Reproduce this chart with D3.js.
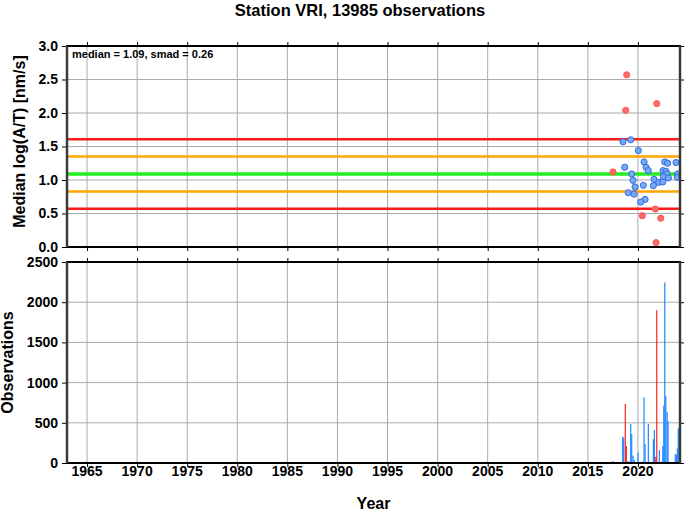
<!DOCTYPE html>
<html>
<head>
<meta charset="utf-8">
<script src="https://cdn.jsdelivr.net/npm/d3@7"></script>
<style>
  body { margin: 0; background: #fff; }
  svg { display: block; font-family: "Liberation Sans", Arial, Helvetica, sans-serif; }
</style>
</head>
<body>
<div id="chart"></div>
<script>
// Data
const stationName = "VRI";
const totalObservations = 13985;
const median = 1.09;
const smad = 0.26;

// Median log(A/T) per group, flagged = drawn red
const pointYears = [2018.88, 2018.78, 2021.88, 2017.51, 2021.74, 2020.44, 2022.28, 2021.81,
    2018.51, 2019.28, 2020.04, 2020.61, 2022.68, 2022.97, 2023.80, 2018.68, 2020.81, 2021.04,
    2022.51, 2022.81, 2019.38, 2022.88, 2023.97, 2022.54, 2023.04, 2023.93, 2019.51, 2021.61,
    2022.08, 2022.48, 2019.71, 2020.54, 2021.54, 2019.04, 2019.61, 2020.71, 2020.28];
const pointMedians = [2.57, 2.04, 2.14, 1.12, 0.567, 0.467, 0.43, 0.065,
    1.57, 1.60, 1.44, 1.27, 1.27, 1.25, 1.26, 1.19, 1.19, 1.14,
    1.14, 1.13, 1.09, 1.09, 1.09, 1.05, 1.03, 1.04, 0.995, 1.01,
    0.965, 0.97, 0.895, 0.92, 0.915, 0.81, 0.79, 0.71, 0.67];
const pointFlagged = [1, 1, 1, 1, 1, 1, 1, 1,
    0, 0, 0, 0, 0, 0, 0, 0, 0, 0,
    0, 0, 0, 0, 0, 0, 0, 0, 0, 0,
    0, 0, 0, 0, 0, 0, 0, 0, 0];

// Observation counts
const barYears = [2017.48, 2018.48, 2018.58, 2018.74, 2018.84, 2019.01, 2019.28, 2019.38,
    2019.51, 2019.64, 2020.01, 2020.34, 2020.48, 2020.61, 2020.71, 2021.04, 2021.54, 2021.64,
    2021.78, 2021.88, 2022.14, 2022.31, 2022.48, 2022.58, 2022.68, 2022.78, 2022.91, 2023.01,
    2023.73, 2023.83, 2023.93, 2024.03];
const barCounts = [25, 327, 315, 734, 211, 25, 485, 361,
    91, 37, 128, 12, 20, 817, 236, 485, 295, 410,
    78, 1899, 162, 10, 211, 713, 2246, 833, 638, 522,
    112, 100, 182, 431];
const barFlagged = [1, 0, 0, 1, 1, 0, 0, 0,
    0, 0, 0, 1, 0, 0, 0, 0, 0, 0,
    1, 1, 0, 1, 0, 0, 0, 0, 0, 0,
    0, 0, 0, 0];

const yearTicks = d3.range(1965, 2021, 5);
const medianTicks = [0, 0.5, 1, 1.5, 2, 2.5, 3];
const countTicks = [0, 500, 1000, 1500, 2000, 2500];

// Layout
const W = 685, H = 511;
const left = 67, right = 680;
const top1 = 46, bottom1 = 247;
const top2 = 262, bottom2 = 463;

const svg = d3.select("#chart").append("svg")
    .attr("width", W)
    .attr("height", H);

const x = d3.scaleLinear().domain([1963, 2024.2]).range([left, right]);
const y1 = d3.scaleLinear().domain([0, 3]).range([bottom1, top1]);
const y2 = d3.scaleLinear().domain([0, 2500]).range([bottom2, top2]);

const gridColor = "#ababab";

function panel(yScale, yTop, yBottom, ticks, fmt) {
    const g = svg.append("g");

    // grid
    g.selectAll(".vgrid").data(yearTicks).enter().append("line")
        .attr("x1", d => x(d)).attr("x2", d => x(d))
        .attr("y1", yTop).attr("y2", yBottom)
        .attr("stroke", gridColor).attr("stroke-width", 1);
    g.selectAll(".hgrid").data(ticks).enter().append("line")
        .attr("x1", left).attr("x2", right)
        .attr("y1", d => yScale(d)).attr("y2", d => yScale(d))
        .attr("stroke", gridColor).attr("stroke-width", 1);

    // ticks on all four sides
    const yl = g.append("g").attr("transform", `translate(${left},0)`)
        .call(d3.axisLeft(yScale).tickValues(ticks).tickSize(5).tickPadding(4).tickFormat(fmt));
    yl.selectAll("text").attr("font-size", 14).attr("font-weight", "bold").attr("fill", "#000")
        .style("font-family", "Liberation Sans, Arial, sans-serif");
    g.append("g").attr("transform", `translate(${right},0)`)
        .call(d3.axisRight(yScale).tickValues(ticks).tickSize(4).tickFormat(""));
    g.append("g").attr("transform", `translate(0,${yTop})`)
        .call(d3.axisTop(x).tickValues(yearTicks).tickSize(4).tickFormat(""));
    g.append("g").attr("transform", `translate(0,${yBottom})`)
        .call(d3.axisBottom(x).tickValues(yearTicks).tickSize(4).tickFormat(""));
    g.selectAll(".domain").remove();
    g.selectAll(".tick line").attr("stroke", "#000");
    return g;
}

function frame(yTop, yBottom) {
    svg.append("line").attr("x1", left - 1).attr("x2", right + 1).attr("y1", yTop).attr("y2", yTop)
        .attr("stroke", "#000").attr("stroke-width", 2);
    svg.append("line").attr("x1", left - 1).attr("x2", right + 1).attr("y1", yBottom).attr("y2", yBottom)
        .attr("stroke", "#000").attr("stroke-width", 2);
    svg.append("line").attr("x1", left).attr("x2", left).attr("y1", yTop).attr("y2", yBottom)
        .attr("stroke", "#3a3a3a").attr("stroke-width", 2.5);
    svg.append("line").attr("x1", right).attr("x2", right).attr("y1", yTop).attr("y2", yBottom)
        .attr("stroke", "#3a3a3a").attr("stroke-width", 2.5);
}

// ---- top panel
panel(y1, top1, bottom1, medianTicks, d3.format(".1f"));

const levels = [
    { v: median + 2 * smad, c: "#ff1a1a", w: 2.5 },
    { v: median - 2 * smad, c: "#ff1a1a", w: 2.5 },
    { v: median + smad, c: "#ffa500", w: 2.5 },
    { v: median - smad, c: "#ffa500", w: 2.5 },
    { v: median, c: "#22ee22", w: 3.5 }
];
svg.append("g").selectAll("line").data(levels).enter().append("line")
    .attr("x1", left).attr("x2", right)
    .attr("y1", d => y1(d.v)).attr("y2", d => y1(d.v))
    .attr("stroke", d => d.c).attr("stroke-width", d => d.w);

svg.append("g").selectAll("circle").data(d3.range(pointYears.length)).enter().append("circle")
    .attr("cx", i => x(pointYears[i]))
    .attr("cy", i => y1(pointMedians[i]))
    .attr("r", 3.1)
    .attr("fill", i => pointFlagged[i] ? "#ff6a6a" : "#74a9f4")
    .attr("stroke", i => pointFlagged[i] ? "#ff5050" : "#2f62e0")
    .attr("stroke-width", 0.9);

frame(top1, bottom1);

svg.append("text")
    .attr("x", 72).attr("y", 58)
    .attr("font-size", 11).attr("font-weight", "bold")
    .text(`median = ${median.toFixed(2)}, smad = ${smad.toFixed(2)}`);

// ---- bottom panel
panel(y2, top2, bottom2, countTicks, d3.format("d"));

svg.append("g").selectAll("rect").data(d3.range(barYears.length)).enter().append("rect")
    .attr("x", i => x(barYears[i]) - 0.6)
    .attr("width", 1.2)
    .attr("y", i => y2(barCounts[i]))
    .attr("height", i => y2(0) - y2(barCounts[i]))
    .attr("fill", i => barFlagged[i] ? "#ff2020" : "#1e88ff");

frame(top2, bottom2);

// x tick labels
svg.append("g").selectAll("text").data(yearTicks).enter().append("text")
    .attr("x", d => x(d)).attr("y", 476)
    .attr("text-anchor", "middle")
    .attr("font-size", 14).attr("font-weight", "bold")
    .text(d => d);

// titles
svg.append("text")
    .attr("x", 360).attr("y", 16)
    .attr("text-anchor", "middle")
    .attr("font-size", 16.5).attr("font-weight", "bold")
    .text(`Station ${stationName}, ${totalObservations} observations`);

svg.append("text")
    .attr("x", (left + right) / 2).attr("y", 509)
    .attr("text-anchor", "middle")
    .attr("font-size", 16).attr("font-weight", "bold")
    .text("Year");

svg.append("text")
    .attr("transform", `translate(25,${(top1 + bottom1) / 2 - 5}) rotate(-90)`)
    .attr("text-anchor", "middle")
    .attr("font-size", 16).attr("font-weight", "bold")
    .text("Median log(A/T) [nm/s]");

svg.append("text")
    .attr("transform", `translate(13,${(top2 + bottom2) / 2}) rotate(-90)`)
    .attr("text-anchor", "middle")
    .attr("font-size", 16).attr("font-weight", "bold")
    .text("Observations");
</script>
</body>
</html>
